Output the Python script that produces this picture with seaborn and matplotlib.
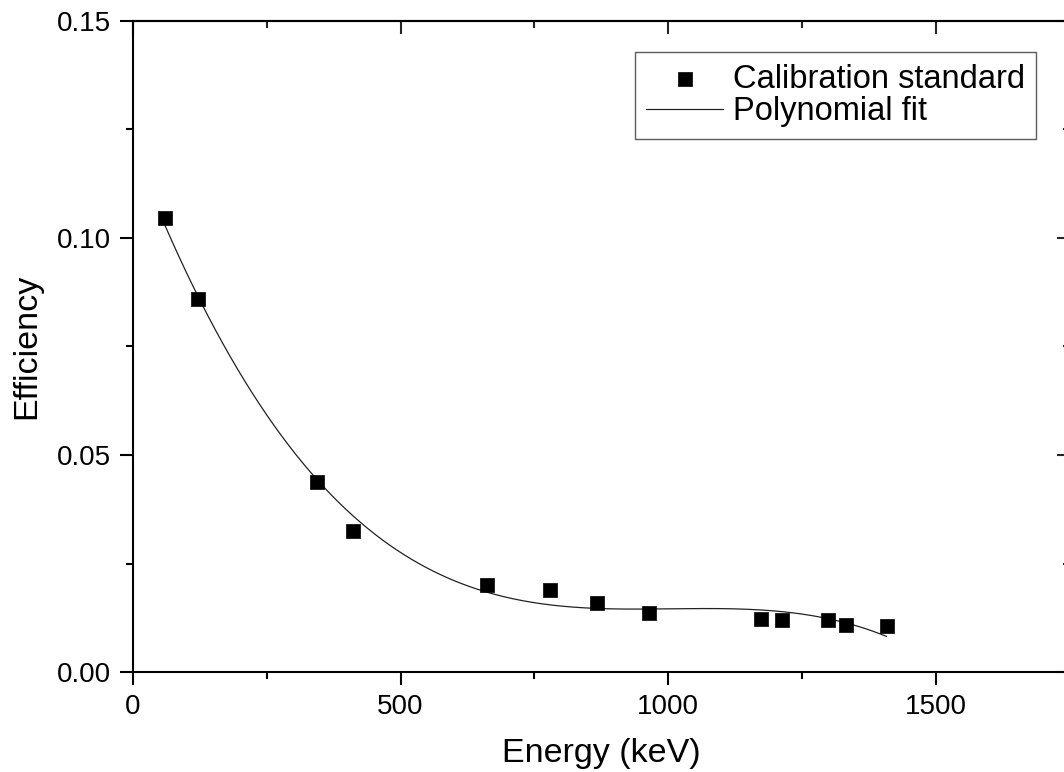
import matplotlib
matplotlib.use("Agg")
import matplotlib.pyplot as plt
import seaborn as sns
import numpy as np
from matplotlib.ticker import MultipleLocator, FormatStrFormatter

# calibration points
energy_kev = [59.5, 122, 344, 411, 662, 779, 867, 964, 1173, 1212, 1299, 1332, 1408]
efficiency = [0.1045, 0.0859, 0.0437, 0.0324, 0.0201, 0.0190, 0.0160,
              0.0135, 0.0123, 0.0119, 0.0119, 0.0108, 0.0107]
fit_degree = 3

sns.set_style("ticks")
plt.rcParams['font.family'] = ['Liberation Sans', 'DejaVu Sans']
plt.rcParams['text.color'] = 'black'
plt.rcParams['axes.labelcolor'] = 'black'

fig = plt.figure(figsize=(10.64, 7.72), dpi=100)
ax = fig.add_axes([133 / 1064, 100 / 772, 936.6 / 1064, 651 / 772])

coef = np.polyfit(energy_kev, efficiency, fit_degree)
x_fit = np.linspace(min(energy_kev), max(energy_kev), 300)
y_fit = np.polyval(coef, x_fit)

sns.scatterplot(x=energy_kev, y=efficiency, marker='s', s=115, color='black',
                edgecolor='black', linewidth=0.5, ax=ax, label='Calibration standard',
                zorder=3)
sns.lineplot(x=x_fit, y=y_fit, color='#222222', linewidth=0.9, ax=ax,
             label='Polynomial fit', zorder=2)

ax.set_xlim(0, 1750)
ax.set_ylim(0, 0.15)
ax.xaxis.set_major_locator(MultipleLocator(500))
ax.xaxis.set_minor_locator(MultipleLocator(250))
ax.yaxis.set_major_locator(MultipleLocator(0.05))
ax.yaxis.set_minor_locator(MultipleLocator(0.025))
ax.yaxis.set_major_formatter(FormatStrFormatter('%.2f'))

for s in ax.spines.values():
    s.set_linewidth(1.5)
    s.set_color('black')

ax.tick_params(which='both', direction='out', width=1.5, colors='black',
               labelsize=20, top=False, right=False)
ax.tick_params(which='major', length=9.5, pad=6)
ax.tick_params(which='minor', length=4.7)

# inward ticks on top and right, no labels
axt = ax.secondary_xaxis('top')
axt.xaxis.set_major_locator(MultipleLocator(500))
axt.xaxis.set_minor_locator(MultipleLocator(250))
axt.tick_params(which='both', direction='in', width=1.5, labeltop=False)
axt.tick_params(which='major', length=9.5)
axt.tick_params(which='minor', length=4.7)
axt.spines['top'].set_linewidth(1.5)
axr = ax.secondary_yaxis('right')
axr.yaxis.set_major_locator(MultipleLocator(0.05))
axr.yaxis.set_minor_locator(MultipleLocator(0.025))
axr.tick_params(which='both', direction='in', width=1.5, labelright=False)
axr.tick_params(which='major', length=9.5)
axr.tick_params(which='minor', length=4.7)
axr.spines['right'].set_linewidth(1.5)

ax.set_xlabel('Energy (keV)', fontsize=24.5, labelpad=13)
ax.set_ylabel('Efficiency', fontsize=24.5, labelpad=11)

leg = ax.legend(loc='upper left', bbox_to_anchor=(0.536, 0.952), borderaxespad=0,
                fontsize=23.5, frameon=True, fancybox=False, edgecolor='#333333',
                handlelength=2.35, handletextpad=0.3, borderpad=0.35,
                labelspacing=0.05, markerscale=0.95)
leg.get_frame().set_linewidth(1.0)
for t in leg.get_texts():
    t.set_color('black')

fig.savefig('out.png', dpi=100)
